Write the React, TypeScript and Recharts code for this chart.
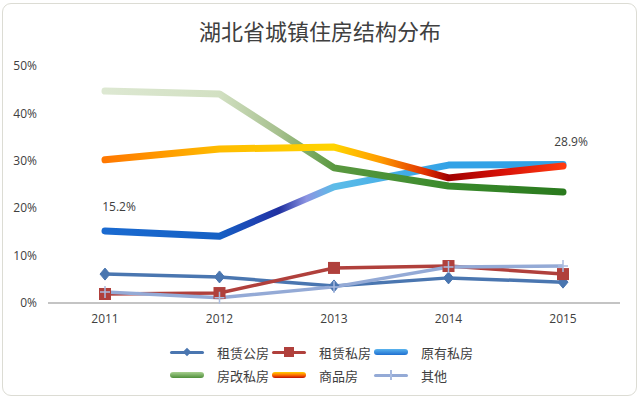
import { LineChart, Line, XAxis, YAxis } from 'recharts';

const years = ['2011', '2012', '2013', '2014', '2015'];
const rentPublic = [6.1, 5.5, 3.6, 5.3, 4.4];
const rentPrivate = [1.9, 2.1, 7.4, 7.8, 6.1];
const oldPrivate = [15.2, 14.1, 24.5, 29.1, 29.2];
const reformPrivate = [44.7, 44.1, 28.5, 24.7, 23.4];
const commercial = [30.2, 32.5, 32.9, 26.4, 28.9];
const others = [2.3, 1.1, 3.4, 7.6, 7.8];
const yTicks = [0, 10, 20, 30, 40, 50];

const data = years.map((y, i) => ({
  year: y,
  rentPublic: rentPublic[i],
  rentPrivate: rentPrivate[i],
  oldPrivate: oldPrivate[i],
  reformPrivate: reformPrivate[i],
  commercial: commercial[i],
  others: others[i],
}));

const FONT = '"Open Sans", "Noto Sans CJK SC", sans-serif';
const CJK = '"Noto Sans CJK SC", sans-serif';
const TEXT = '#404040';

const diamondDot = (p: any) => (
  <path
    key={`dia-${p.index}`}
    d={`M${p.cx},${p.cy - 6} L${p.cx + 5},${p.cy} L${p.cx},${p.cy + 6} L${p.cx - 5},${p.cy} Z`}
    fill="#4a76b0"
    stroke="#4a76b0"
  />
);

const squareDot = (p: any) => (
  <rect key={`sq-${p.index}`} x={p.cx - 6} y={p.cy - 6} width={12} height={12} fill="#b0403c" />
);

const plusDot = (p: any) => (
  <path
    key={`pl-${p.index}`}
    d={`M${p.cx - 5},${p.cy} H${p.cx + 5} M${p.cx},${p.cy - 6} V${p.cy + 6}`}
    stroke="#a9bbe0"
    strokeWidth={1.5}
    fill="none"
  />
);

const pointLabel = (idx: number, dx: number) => (p: any) =>
  p.index === idx ? (
    <text
      key={`lb-${p.index}`}
      x={p.x + dx}
      y={p.y - 20}
      textAnchor="middle"
      fontSize={12}
      fill={TEXT}
      fontFamily={FONT}
    >
      {`${p.value}%`}
    </text>
  ) : null;

const legendItems = [
  { name: '租赁公房', bg: '#4a76b0', h: 3, marker: 'diamond' },
  { name: '租赁私房', bg: '#b0403c', h: 3, marker: 'square' },
  { name: '原有私房', bg: 'linear-gradient(#5ab4ee, #1f6fd0)', h: 6, marker: '' },
  { name: '房改私房', bg: 'linear-gradient(#a8d090, #4f8f3a)', h: 6, marker: '' },
  { name: '商品房', bg: 'linear-gradient(#ffd000, #ff7000, #c01000)', h: 6, marker: '' },
  { name: '其他', bg: '#94aad6', h: 3, marker: 'plus' },
];

function LegendIcon({ item }: { item: (typeof legendItems)[number] }) {
  return (
    <div style={{ position: 'relative', width: 34, height: 12, marginRight: 13 }}>
      <div
        style={{
          position: 'absolute',
          left: 0,
          right: 0,
          top: 6 - item.h / 2,
          height: item.h,
          borderRadius: item.h,
          background: item.bg,
        }}
      />
      {item.marker === 'diamond' && (
        <div
          style={{
            position: 'absolute',
            left: 14,
            top: 3,
            width: 6,
            height: 6,
            background: '#4a76b0',
            transform: 'rotate(45deg)',
          }}
        />
      )}
      {item.marker === 'square' && (
        <div style={{ position: 'absolute', left: 12, top: 1, width: 10, height: 10, background: '#b0403c' }} />
      )}
      {item.marker === 'plus' && (
        <div style={{ position: 'absolute', left: 16, top: 1, width: 1.5, height: 10, background: '#a9bbe0' }} />
      )}
    </div>
  );
}

export default function App() {
  return (
    <div
      style={{
        position: 'absolute',
        left: 0,
        top: 0,
        width: 640,
        height: 399,
        background: '#fff',
      }}
    >
      <div
        style={{
          position: 'absolute',
          left: 2,
          top: 3,
          width: 633,
          height: 391,
          border: '1.5px solid #dcdcd4',
          borderRadius: 9,
        }}
      />
      <div
        style={{
          position: 'absolute',
          left: 0,
          width: 640,
          top: 14,
          textAlign: 'center',
          fontFamily: CJK,
          fontSize: 22,
          color: TEXT,
          lineHeight: '32px',
        }}
      >
        湖北省城镇住房结构分布
      </div>
      <div style={{ position: 'absolute', left: 0, top: 0 }}>
        <LineChart width={640} height={399} data={data} margin={{ top: 66, right: 20, bottom: 66, left: 8 }}>
          <defs>
            <linearGradient id="gOld" x1="0" y1="0" x2="1" y2="0">
              <stop offset="0" stopColor="#1a6ad0" />
              <stop offset="0.25" stopColor="#1560c4" />
              <stop offset="0.34" stopColor="#1f3fb0" />
              <stop offset="0.38" stopColor="#2030a0" />
              <stop offset="0.44" stopColor="#8c94e2" />
              <stop offset="0.5" stopColor="#5cbce8" />
              <stop offset="0.75" stopColor="#32a2e6" />
              <stop offset="1" stopColor="#32a2e6" />
            </linearGradient>
            <linearGradient id="gReform" x1="0" y1="0" x2="1" y2="0">
              <stop offset="0" stopColor="#dde8d2" />
              <stop offset="0.25" stopColor="#d2e0c2" />
              <stop offset="0.38" stopColor="#a6c08e" />
              <stop offset="0.5" stopColor="#5a9840" />
              <stop offset="0.75" stopColor="#3a8a2c" />
              <stop offset="1" stopColor="#2a7a1e" />
            </linearGradient>
            <linearGradient id="gComm" x1="0" y1="0" x2="1" y2="0">
              <stop offset="0" stopColor="#ff7800" />
              <stop offset="0.25" stopColor="#ffbc00" />
              <stop offset="0.5" stopColor="#ffd400" />
              <stop offset="0.6" stopColor="#ff9c00" />
              <stop offset="0.7" stopColor="#e03000" />
              <stop offset="0.75" stopColor="#a00000" />
              <stop offset="0.87" stopColor="#d81208" />
              <stop offset="1" stopColor="#ff3a10" />
            </linearGradient>
          </defs>
          <XAxis
            dataKey="year"
            padding={{ left: 57, right: 57 }}
            tickLine={false}
            tickMargin={5}
            axisLine={{ stroke: '#8a8a8a', strokeWidth: 1.2 }}
            tick={{ fill: TEXT, fontSize: 12, fontFamily: FONT }}
          />
          <YAxis
            width={40}
            domain={[0, 50]}
            ticks={yTicks}
            tickFormatter={(v) => `${v}%`}
            axisLine={false}
            tickLine={false}
            tickMargin={5}
            tick={{ fill: TEXT, fontSize: 12, fontFamily: FONT }}
          />
          <Line
            dataKey="rentPublic"
            stroke="#4a76b0"
            strokeWidth={3.5}
            dot={diamondDot}
            activeDot={false}
            isAnimationActive={false}
          />
          <Line
            dataKey="rentPrivate"
            stroke="#b0403c"
            strokeWidth={3.5}
            dot={squareDot}
            activeDot={false}
            isAnimationActive={false}
          />
          <Line
            dataKey="oldPrivate"
            stroke="url(#gOld)"
            strokeWidth={7}
            strokeLinecap="round"
            strokeLinejoin="round"
            dot={false}
            activeDot={false}
            label={pointLabel(0, 14)}
            isAnimationActive={false}
          />
          <Line
            dataKey="reformPrivate"
            stroke="url(#gReform)"
            strokeWidth={7}
            strokeLinecap="round"
            strokeLinejoin="round"
            dot={false}
            activeDot={false}
            isAnimationActive={false}
          />
          <Line
            dataKey="commercial"
            stroke="url(#gComm)"
            strokeWidth={7}
            strokeLinecap="round"
            strokeLinejoin="round"
            dot={false}
            activeDot={false}
            label={pointLabel(4, 8)}
            isAnimationActive={false}
          />
          <Line
            dataKey="others"
            stroke="#94aad6"
            strokeWidth={3.5}
            dot={plusDot}
            activeDot={false}
            isAnimationActive={false}
          />
        </LineChart>
      </div>
      <div
        style={{
          position: 'absolute',
          left: 170,
          top: 343,
          width: 320,
          display: 'flex',
          flexWrap: 'wrap',
          rowGap: 5,
          fontFamily: CJK,
          fontSize: 13,
          color: TEXT,
        }}
      >
        {legendItems.map((item) => (
          <div key={item.name} style={{ display: 'flex', alignItems: 'center', width: 102, height: 18 }}>
            <LegendIcon item={item} />
            <span style={{ whiteSpace: 'nowrap' }}>{item.name}</span>
          </div>
        ))}
      </div>
    </div>
  );
}
